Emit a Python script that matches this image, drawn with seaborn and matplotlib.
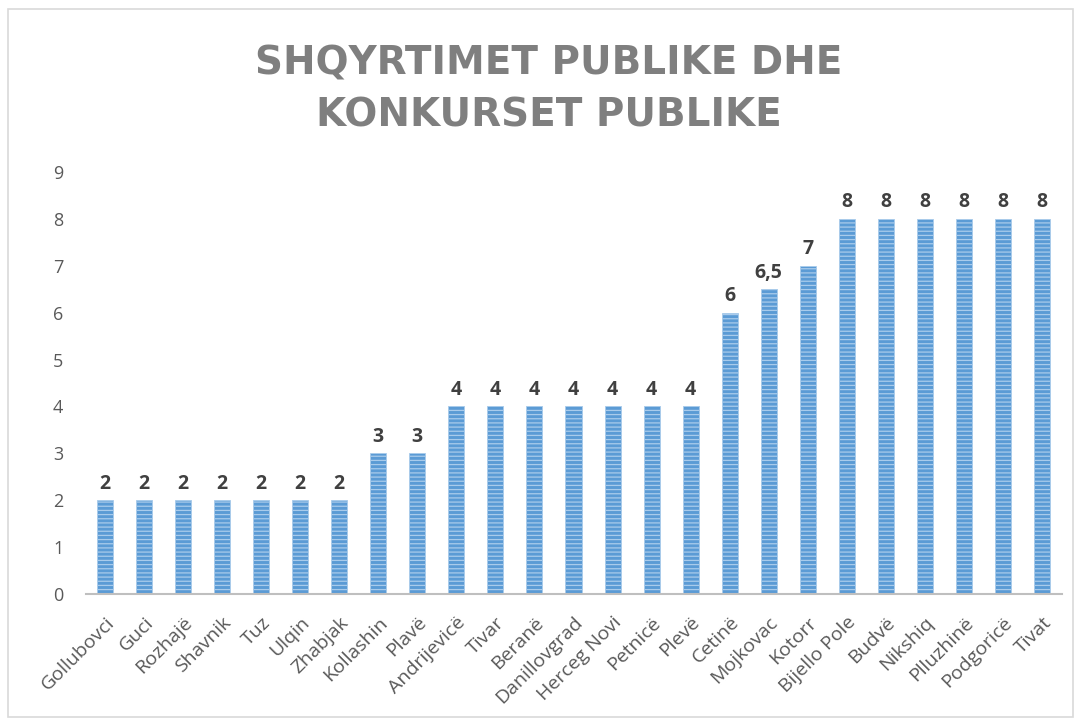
import pandas as pd
import matplotlib.pyplot as plt
import seaborn as sns
from matplotlib.patches import Rectangle

# data
komunat = ["Gollubovci", "Guci", "Rozhajë", "Shavnik", "Tuz", "Ulqin", "Zhabjak",
           "Kollashin", "Plavë", "Andrijevicë", "Tivar", "Beranë", "Danillovgrad",
           "Herceg Novi", "Petnicë", "Plevë", "Cetinë", "Mojkovac", "Kotorr",
           "Bijello Pole", "Budvë", "Nikshiq", "Plluzhinë", "Podgoricë", "Tivat"]
vlerat = [2, 2, 2, 2, 2, 2, 2, 3, 3, 4, 4, 4, 4, 4, 4, 4, 6, 6.5, 7, 8, 8, 8, 8, 8, 8]
titulli = "SHQYRTIMET PUBLIKE DHE\nKONKURSET PUBLIKE"

df = pd.DataFrame({"komuna": komunat, "vlera": vlerat})

sns.set_style("white")
plt.rcParams["font.family"] = ["Open Sans", "DejaVu Sans"]
plt.rcParams["hatch.color"] = "#CFE2F5"
plt.rcParams["hatch.linewidth"] = 0.9

fig = plt.figure(figsize=(10.81, 7.22), dpi=100)
ax = fig.add_axes([85.5 / 1081, 1 - 594 / 722, (1061.5 - 85.5) / 1081, (594 - 172) / 722])

sns.barplot(data=df, x="komuna", y="vlera", color="#5B9BD5", saturation=1,
            width=0.41, ax=ax)
for p in ax.patches:
    p.set_hatch("----")
    p.set_edgecolor("#A9CBEB")
    p.set_linewidth(0.6)

for i, v in enumerate(vlerat):
    lbl = str(v).replace(".", ",") if v % 1 else str(int(v))
    ax.text(i, v + 0.14, lbl, ha="center", va="bottom", fontsize=14,
            fontweight="bold", color="#404040")

ax.set_ylim(0, 9)
ax.set_xlim(-0.5, len(komunat) - 0.5)
ax.set_yticks(range(10))
ax.set_xlabel("")
ax.set_ylabel("")
ax.tick_params(axis="y", labelsize=13, colors="#595959", length=0, pad=16)
ax.tick_params(axis="x", labelsize=14, colors="#595959", length=0, pad=14)
plt.setp(ax.get_xticklabels(), rotation=45, ha="right", rotation_mode="anchor")

sns.despine(ax=ax, left=True)
ax.spines["bottom"].set_color("#BFBFBF")
ax.spines["bottom"].set_linewidth(1.5)

fig.text(0.508, 0.876, titulli, ha="center", va="center", fontsize=28,
         fontweight="bold", color="#7F7F7F", linespacing=1.45,
         family="DejaVu Sans")

fig.patches.append(Rectangle((8 / 1081, 5 / 722), 1065 / 1081, 708 / 722,
                             transform=fig.transFigure, fill=False,
                             edgecolor="#D9D9D9", linewidth=1.2))

fig.savefig("out.png", dpi=100)
